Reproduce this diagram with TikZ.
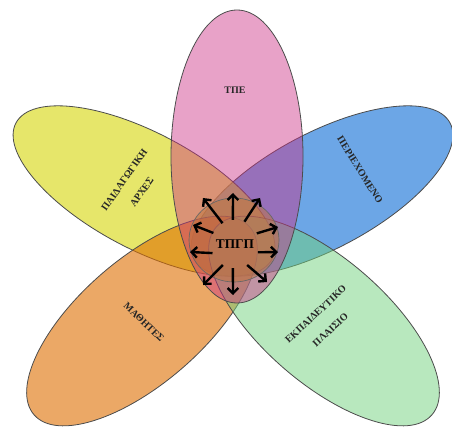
\documentclass[tikz,border=0pt]{standalone}
\usepackage{fontspec}
\setmainfont{Liberation Serif}
\usetikzlibrary{arrows.meta, shapes.geometric}

\definecolor{petalblue}{RGB}{10,107,213}
\definecolor{petalyellow}{RGB}{213,213,7}
\definecolor{petalorange}{RGB}{222,110,0}
\definecolor{petalgreen}{RGB}{113,209,125}
\definecolor{petalpink}{RGB}{204,48,133}
\definecolor{hubbrown}{RGB}{190,118,62}

\begin{document}
\begin{tikzpicture}[
    x=0.75pt, y=0.75pt,
    petal/.style={draw=black!70, line width=0.6pt},
    petal_label/.style={font=\bfseries\fontsize{7.5}{16}\selectfont, align=center, text=black!85},
    hub/.style={circle, minimum size=36pt, inner sep=0pt, font=\bfseries\fontsize{10}{12}\selectfont},
    spoke/.style={-{Straight Barb[length=4pt, width=8pt]}, line width=1.8pt}
]
    \useasboundingbox (0,0) rectangle (452,432);

    % Draw the five petals
    \filldraw[petal, fill=petalblue, fill opacity=0.6, rotate around={28:(322,241)}] (322,241) ellipse [x radius=145, y radius=58];
    \filldraw[petal, fill=petalyellow, fill opacity=0.6, rotate around={-28:(144,241)}] (144,241) ellipse [x radius=145, y radius=58];
    \filldraw[petal, fill=petalorange, fill opacity=0.6, rotate around={41:(142,111)}] (142,111) ellipse [x radius=143, y radius=62];
    \filldraw[petal, fill=petalgreen, fill opacity=0.5, rotate around={-41:(324,111)}] (324,111) ellipse [x radius=143, y radius=62];
    \filldraw[petal, fill=petalpink, fill opacity=0.45] (237,275.5) ellipse [x radius=66, y radius=146.5];

    % Centre ellipse
    \filldraw[draw=black!60, line width=0.5pt, fill=hubbrown, fill opacity=0.5] (234,192) ellipse [x radius=45, y radius=42];

    % Define nodes for the petal labels
    \node[petal_label] (ict) at (235,342) {ΤΠΕ};
    \node[petal_label, rotate=-58] (content) at (360,262) {ΠΕΡΙΕΧΟΜΕΝΟ};
    \node[petal_label, rotate=43] (context) at (323,110) {ΕΚΠΑΙΔΕΥΤΙΚΟ\\ΠΛΑΙΣΙΟ};
    \node[petal_label, rotate=-44] (students) at (144,110) {ΜΑΘΗΤΕΣ};
    \node[petal_label, rotate=55] (pedagogy) at (133,246) {ΠΑΙΔΑΓΩΓΙΚΗ\\ΑΡΧΕΣ};

    % Centre node and arrow tips
    \node[hub] (tpgp) at (235,188) {ΤΠΓΠ};
    \coordinate (tipN) at (233,239);
    \coordinate (tipNW) at (203,234);
    \coordinate (tipNE) at (260,234);
    \coordinate (tipWNW) at (193,207);
    \coordinate (tipENE) at (278,205);
    \coordinate (tipW) at (190,180);
    \coordinate (tipE) at (278,180);
    \coordinate (tipSW) at (203,147);
    \coordinate (tipS) at (233,137);
    \coordinate (tipSE) at (267,150);

    % Draw arrows out of the centre
    \draw[spoke] (tpgp.95) -- (tipN);
    \draw[spoke] (tpgp.121) -- (tipNW);
    \draw[spoke] (tpgp.67) -- (tipNE);
    \draw[spoke] (tpgp.153) -- (tipWNW);
    \draw[spoke] (tpgp.26) -- (tipENE);
    \draw[spoke] (tpgp.202) -- (tipW);
    \draw[spoke] (tpgp.340) -- (tipE);
    \draw[spoke] (tpgp.240) -- (tipSW);
    \draw[spoke] (tpgp.265) -- (tipS);
    \draw[spoke] (tpgp.300) -- (tipSE);

\end{tikzpicture}
\end{document}
